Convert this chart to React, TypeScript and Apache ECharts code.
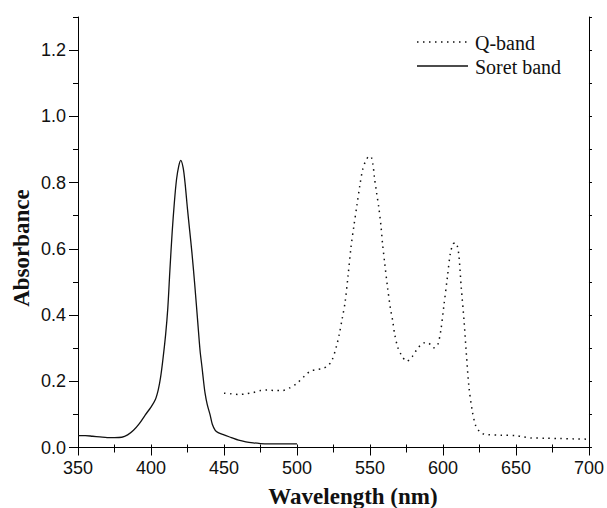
import React, { useEffect, useRef } from "react";
import * as echarts from "echarts";

// Soret band (solid)
const soretWl = [350, 355, 360, 365, 370, 375, 380, 384, 388, 392, 396, 400, 403, 405, 406.5, 408, 410, 411.5, 413, 414.5, 416, 417.5, 419, 420.4, 422, 423.3, 425, 426.5, 428, 430, 432, 433.6, 435, 436, 437, 438.5, 440.4, 442, 444, 446, 450, 455, 460, 465, 470, 475, 480, 490, 500];
const soretAbs = [0.036, 0.036, 0.034, 0.032, 0.030, 0.030, 0.031, 0.038, 0.052, 0.072, 0.098, 0.122, 0.145, 0.175, 0.21, 0.26, 0.34, 0.42, 0.54, 0.65, 0.74, 0.81, 0.85, 0.867, 0.845, 0.80, 0.72, 0.655, 0.59, 0.49, 0.38, 0.293, 0.24, 0.20, 0.165, 0.13, 0.10, 0.07, 0.052, 0.045, 0.038, 0.030, 0.022, 0.017, 0.014, 0.012, 0.011, 0.011, 0.011];

// Q-band (dotted)
const qWl = [450, 455, 460, 465, 470, 475, 480, 485, 490, 495, 500, 505, 509, 513, 517, 521, 524, 527, 529, 531, 533, 535, 537, 539, 541, 543, 545, 547, 549, 550.5, 552, 553, 554.5, 556, 557.5, 558.6, 560, 562, 564, 565.5, 567, 569, 571, 572.5, 575, 577, 579, 582, 585, 587, 589.5, 591.5, 593.5, 595, 596.5, 598.5, 600.5, 603, 605, 607, 608.7, 610, 611, 612.5, 614.4, 616, 617.8, 620, 622.4, 625, 627, 630, 640, 650, 655, 660, 670, 680, 690, 700];
const qAbs = [0.164, 0.162, 0.160, 0.162, 0.166, 0.172, 0.174, 0.172, 0.172, 0.180, 0.194, 0.215, 0.230, 0.235, 0.238, 0.246, 0.264, 0.305, 0.343, 0.39, 0.44, 0.52, 0.605, 0.67, 0.73, 0.79, 0.84, 0.865, 0.878, 0.879, 0.855, 0.817, 0.77, 0.726, 0.67, 0.615, 0.56, 0.484, 0.42, 0.384, 0.34, 0.303, 0.283, 0.272, 0.260, 0.265, 0.275, 0.295, 0.311, 0.316, 0.317, 0.31, 0.301, 0.303, 0.311, 0.353, 0.424, 0.514, 0.585, 0.615, 0.618, 0.605, 0.575, 0.484, 0.384, 0.283, 0.182, 0.112, 0.066, 0.048, 0.042, 0.039, 0.037, 0.036, 0.032, 0.029, 0.028, 0.027, 0.026, 0.025];

const yMajorTicks = [0, 0.2, 0.4, 0.6, 0.8, 1.0, 1.2];
const yMinorTicks = [0.1, 0.3, 0.5, 0.7, 0.9, 1.1, 1.3];
const seriesNames = ["Q-band", "Soret band"];

const INK = "#111";
const DOTS = [1.5, 4.5];

export default function App() {
  const ref = useRef<HTMLDivElement>(null);
  useEffect(() => {
    if (!ref.current) return;
    const chart = echarts.init(ref.current, undefined, { renderer: "svg" });
    const axisLine = { show: true, lineStyle: { color: "#000", width: 1 } };
    const legendFont = "20px 'Liberation Serif'";
    chart.setOption({
      animation: false,
      backgroundColor: "#fff",
      grid: { left: 78, right: 17, top: 17, bottom: 60.5, containLabel: false },
      xAxis: [
        {
          type: "value",
          position: "bottom",
          min: 350,
          max: 700,
          interval: 50,
          axisLine,
          axisTick: { show: true, inside: false, length: 8, lineStyle: { color: "#000" } },
          minorTick: { show: true, splitNumber: 2, length: 5, lineStyle: { color: "#000" } },
          axisLabel: { margin: 11, fontSize: 18, fontFamily: "Liberation Sans", color: INK },
          splitLine: { show: false },
        },
        {
          type: "value",
          position: "top",
          min: 350,
          max: 700,
          interval: 25,
          axisLine,
          axisTick: { show: true, inside: false, length: 3, lineStyle: { color: "#000" } },
          axisLabel: { show: false },
          splitLine: { show: false },
        },
      ],
      yAxis: [
        {
          type: "value",
          position: "left",
          min: 0,
          max: 1.3,
          interval: 0.1,
          axisLine,
          axisTick: { show: true, inside: false, length: 9, customValues: yMajorTicks, lineStyle: { color: "#000" } },
          axisLabel: {
            customValues: yMajorTicks,
            margin: 12,
            fontSize: 18,
            fontFamily: "Liberation Sans",
            color: INK,
            formatter: (v: number) => v.toFixed(1),
          },
          splitLine: { show: false },
        },
        {
          type: "value",
          position: "left",
          min: 0,
          max: 1.3,
          interval: 0.1,
          axisLine: { show: false },
          axisTick: { show: true, inside: false, length: 5, customValues: yMinorTicks, lineStyle: { color: "#000" } },
          axisLabel: { show: false },
          splitLine: { show: false },
        },
        {
          type: "value",
          position: "right",
          min: 0,
          max: 1.3,
          interval: 0.1,
          axisLine,
          axisTick: { show: true, inside: false, length: 3, lineStyle: { color: "#000" } },
          axisLabel: { show: false },
          splitLine: { show: false },
        },
      ],
      graphic: [
        {
          type: "text",
          x: 353,
          y: 496,
          style: {
            text: "Wavelength (nm)",
            font: "bold 23px 'Liberation Serif'",
            fill: INK,
            textAlign: "center",
            textVerticalAlign: "middle",
          },
        },
        {
          type: "text",
          x: 21,
          y: 248,
          rotation: Math.PI / 2,
          style: {
            text: "Absorbance",
            font: "bold 23px 'Liberation Serif'",
            fill: INK,
            textAlign: "center",
            textVerticalAlign: "middle",
          },
        },
        {
          type: "line",
          shape: { x1: 417, y1: 42, x2: 468, y2: 42 },
          style: { stroke: INK, lineWidth: 1.5, lineDash: DOTS },
        },
        {
          type: "text",
          x: 475,
          y: 43,
          style: { text: seriesNames[0], font: legendFont, fill: INK, textAlign: "left", textVerticalAlign: "middle" },
        },
        {
          type: "line",
          shape: { x1: 417, y1: 66, x2: 468, y2: 66 },
          style: { stroke: INK, lineWidth: 1.3 },
        },
        {
          type: "text",
          x: 475,
          y: 67,
          style: { text: seriesNames[1], font: legendFont, fill: INK, textAlign: "left", textVerticalAlign: "middle" },
        },
      ],
      series: [
        {
          name: seriesNames[0],
          type: "line",
          xAxisIndex: 0,
          yAxisIndex: 0,
          data: qWl.map((w, i) => [w, qAbs[i]]),
          showSymbol: false,
          symbol: "none",
          smooth: 0.3,
          lineStyle: { color: INK, width: 1.5, type: DOTS },
          itemStyle: { color: INK },
        },
        {
          name: seriesNames[1],
          type: "line",
          xAxisIndex: 0,
          yAxisIndex: 0,
          data: soretWl.map((w, i) => [w, soretAbs[i]]),
          showSymbol: false,
          symbol: "none",
          smooth: 0.3,
          lineStyle: { color: INK, width: 1.3, type: "solid" },
          itemStyle: { color: INK },
        },
      ],
    });
    return () => chart.dispose();
  }, []);
  return <div ref={ref} style={{ width: 607, height: 508, position: "absolute", left: 0, top: 0 }} />;
}
